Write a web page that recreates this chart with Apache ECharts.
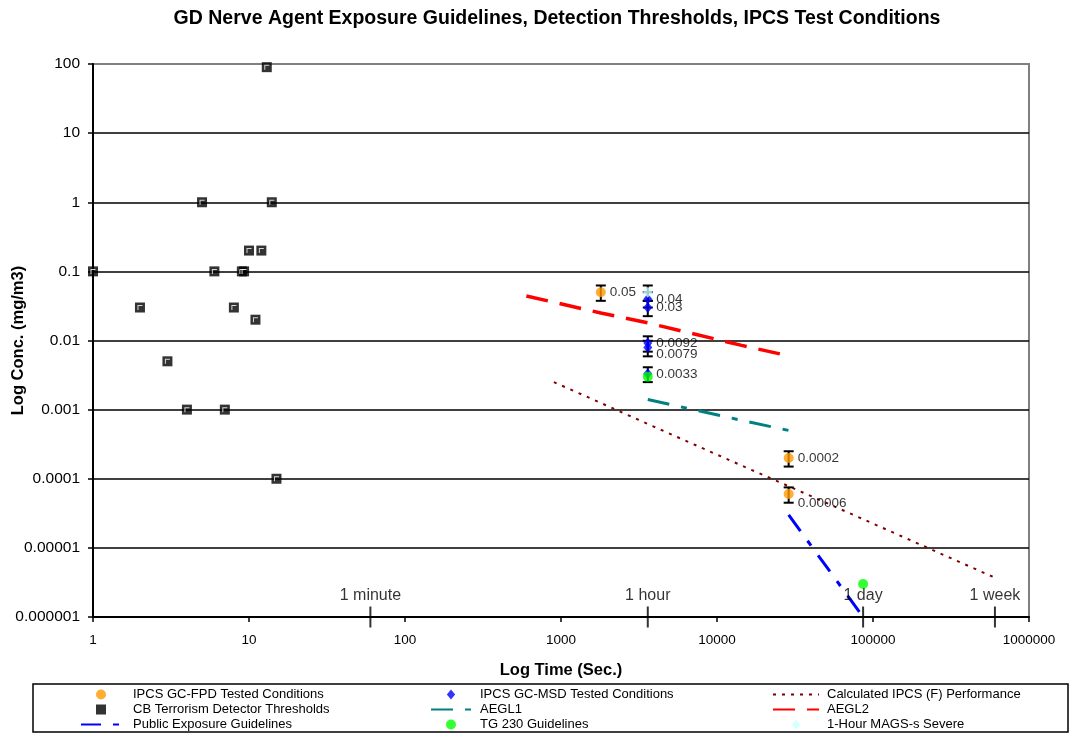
<!DOCTYPE html>
<html><head><meta charset="utf-8">
<script src="https://cdn.jsdelivr.net/npm/echarts@6/dist/echarts.min.js"></script>
<style>html,body{margin:0;padding:0;background:#fff}#c{width:1073px;height:734px}</style>
</head><body><div id="c"></div>
<script>
// ---- tick labels ----
const xTickLabels = ['1','10','100','1000','10000','100000','1000000'];
const yTickLabels = ['0.000001','0.00001','0.0001','0.001','0.01','0.1','1','10','100'];
const timeMarkNames = ['1 minute','1 hour','1 day','1 week'];
const timeMarkSec = [60, 3600, 86400, 604800];

// ---- series data (time in s, concentration in mg/m3) ----
const fpdTime = [1800, 28800, 28800];
const fpdConc = [0.05, 0.0002, 0.00006];
const msdTime = [3600, 3600, 3600, 3600, 3600];
const msdConc = [0.04, 0.03, 0.0092, 0.0079, 0.0033];
const cbTime = [1, 2, 3, 4, 5, 6, 7, 8, 9, 9.3, 10, 11, 12, 13, 14, 15];
const cbConc = [0.1, 0.03, 0.005, 0.001, 1, 0.1, 0.001, 0.03, 0.1, 0.1, 0.2, 0.02, 0.2, 90, 1, 0.0001];
const pubTime = [28800, 86400];
const pubConc = [0.00003, 0.000001];
const tgTime = [3600, 86400];
const tgConc = [0.003, 0.000003];
const magsTime = [3600];
const magsConc = [0.05];
const aegl1Time = [3600, 14400, 28800];
const aegl1Conc = [0.0014, 0.0007, 0.0005];
const aegl2Time = [600, 1800, 3600, 14400, 28800];
const aegl2Conc = [0.044, 0.025, 0.018, 0.0085, 0.006];
const calcTime = [900, 1800, 3600, 7200, 14400, 28800, 86400, 604800];
const calcConc = [0.0025, 0.00125, 0.00062, 0.00031, 0.000155, 0.000078, 0.000026, 0.0000037];
// error bars
const errTime = [1800, 3600, 3600, 3600, 3600, 3600, 3600, 28800, 28800];
const errLow  = [0.0375, 0.0375, 0.03, 0.0225, 0.0069, 0.0059, 0.0025, 0.00015, 0.000045];
const errHigh = [0.0625, 0.0625, 0.05, 0.0375, 0.0115, 0.0099, 0.0041, 0.00025, 0.000075];

const zip = (a, b) => a.map((v, i) => [v, b[i]]);
const FONT = 'Liberation Sans';

const chart = echarts.init(document.getElementById('c'), null, {renderer: 'canvas'});

const labelFor = (labels, shift) => (v) => {
  const k = Math.round(Math.log10(v)) + shift;
  return labels[k] !== undefined ? labels[k] : '';
};

const ptLabel = {show: true, position: 'right', distance: 4, color: '#000', fontSize: 13.5, fontFamily: FONT,
  formatter: p => String(p.value[1])};

const DIAMOND = 'path://M5,0L10,6L5,12L0,6Z';
const SQUARE = 'path://M0,0H10V10H0Z';
const lineItem = (name) => ({name: name, itemStyle: {opacity: 0}});
const legendText = (pad) => ({fontSize: 13, color: '#000', fontFamily: FONT, padding: [0, 0, 0, pad]});
const legendBase = {orient: 'vertical', top: 688, height: 46, padding: 0, itemHeight: 10, itemGap: 2, symbolKeepAspect: true};

const option = {
  animation: false,
  backgroundColor: '#fff',
  textStyle: {fontFamily: FONT},
  grid: {left: 93, top: 64, right: 44, bottom: 117, containLabel: false, outerBoundsMode: 'none',
         show: true, borderColor: '#808080', borderWidth: 2, backgroundColor: 'transparent'},
  xAxis: {
    type: 'log', logBase: 10, min: 1, max: 1000000,
    name: 'Log Time (Sec.)', nameLocation: 'middle', nameGap: 45, nameMoveOverlap: false,
    nameTextStyle: {fontWeight: 'bold', fontSize: 16.5, color: '#000', fontFamily: FONT},
    axisLine: {show: true, lineStyle: {color: '#000', width: 2}},
    axisTick: {show: true, inside: false, length: 5, lineStyle: {color: '#000', width: 1.5}},
    axisLabel: {color: '#000', fontSize: 13.5, margin: 16, fontFamily: FONT, formatter: labelFor(xTickLabels, 0)},
    splitLine: {show: false}, minorTick: {show: false}
  },
  yAxis: {
    type: 'log', logBase: 10, min: 0.000001, max: 100,
    name: 'Log Conc. (mg/m3)', nameLocation: 'middle', nameGap: 66, nameMoveOverlap: false,
    nameTextStyle: {fontWeight: 'bold', fontSize: 16.5, color: '#000', fontFamily: FONT},
    axisLine: {show: true, lineStyle: {color: '#000', width: 2}},
    axisTick: {show: true, inside: false, length: 5, lineStyle: {color: '#000', width: 1.5}},
    axisLabel: {color: '#000', fontSize: 15.5, margin: 13, fontFamily: FONT, formatter: labelFor(yTickLabels, 6)},
    splitLine: {show: true, showMinLine: false, showMaxLine: false, lineStyle: {color: '#000', width: 1.5}},
    minorTick: {show: false}
  },
  legend: [
    Object.assign({}, legendBase, {left: 80, itemWidth: 40, textStyle: legendText(7),
     data: ['IPCS GC-FPD Tested Conditions', {name: 'CB Terrorism Detector Thresholds', icon: SQUARE}, lineItem('Public Exposure Guidelines')]}),
    Object.assign({}, legendBase, {left: 430, itemWidth: 40, textStyle: legendText(4),
     data: [{name: 'IPCS GC-MSD Tested Conditions', icon: DIAMOND}, lineItem('AEGL1'), 'TG 230 Guidelines']}),
    Object.assign({}, legendBase, {left: 772, itemWidth: 46, textStyle: legendText(3),
     data: [lineItem('Calculated IPCS (F) Performance'), lineItem('AEGL2'), {name: '1-Hour MAGS-s Severe', icon: DIAMOND}]})
  ],
  graphic: [
    {type: 'text', x: 557, y: 9, style: {text: 'GD Nerve Agent Exposure Guidelines, Detection Thresholds, IPCS Test Conditions',
      font: 'bold 19.5px "Liberation Sans"', fill: '#000', textAlign: 'center'}},
    {type: 'rect', shape: {x: 33, y: 684, width: 1035, height: 48}, style: {fill: 'none', stroke: '#000', lineWidth: 1.5}, silent: true}
  ],
  series: [
    {name: 'Calculated IPCS (F) Performance', type: 'line', data: zip(calcTime, calcConc), symbol: 'none',
     lineStyle: {color: '#800000', width: 2, type: [3, 6]}, itemStyle: {color: '#800000'}, z: 2},
    {name: 'AEGL1', type: 'line', data: zip(aegl1Time, aegl1Conc), symbol: 'none',
     lineStyle: {color: '#008080', width: 3, type: [22, 12, 6, 12]}, itemStyle: {color: '#008080'}, z: 2},
    {name: 'AEGL2', type: 'line', data: zip(aegl2Time, aegl2Conc), symbol: 'none',
     lineStyle: {color: '#ff0000', width: 3.5, type: [22, 12]}, itemStyle: {color: '#ff0000'}, z: 2},
    {name: 'Public Exposure Guidelines', type: 'line', data: zip(pubTime, pubConc), symbol: 'none',
     lineStyle: {color: '#0000ff', width: 3, type: [20, 12, 6, 12]}, itemStyle: {color: '#0000ff'}, z: 2},
    {name: 'errorbars', type: 'custom', data: errTime.map((t, i) => [t, errLow[i], errHigh[i]]),
     encode: {x: 0, y: [1, 2]}, z: 3, silent: true,
     renderItem: (params, api) => {
       const lo = api.coord([api.value(0), api.value(1)]);
       const hi = api.coord([api.value(0), api.value(2)]);
       const w = 5;
       const st = {stroke: '#000', lineWidth: 2};
       return {type: 'group', children: [
         {type: 'line', shape: {x1: lo[0], y1: lo[1], x2: hi[0], y2: hi[1]}, style: st},
         {type: 'line', shape: {x1: lo[0] - w, y1: lo[1], x2: lo[0] + w, y2: lo[1]}, style: st},
         {type: 'line', shape: {x1: hi[0] - w, y1: hi[1], x2: hi[0] + w, y2: hi[1]}, style: st}
       ]};
     }},
    {name: 'CB Terrorism Detector Thresholds', type: 'scatter', data: zip(cbTime, cbConc), symbol: 'rect', symbolSize: 10,
     itemStyle: {color: '#000'}, clip: false, z: 4},
    {name: 'cbmark', type: 'scatter', data: zip(cbTime, cbConc), symbol: 'path://M0,0H10V2H2V10H0Z', symbolSize: 5,
     itemStyle: {color: '#fff'}, clip: false, z: 5, silent: true},
    {name: 'IPCS GC-FPD Tested Conditions', type: 'scatter', data: zip(fpdTime, fpdConc), symbol: 'circle', symbolSize: 10,
     itemStyle: {color: '#ff9900'}, z: 6,
     label: ptLabel,
     labelLayout: p => (p.dataIndex === 2 ? {dy: 9} : {})},
    {name: 'IPCS GC-MSD Tested Conditions', type: 'scatter', data: zip(msdTime, msdConc), symbol: 'diamond', symbolSize: [9, 11],
     itemStyle: {color: '#0000ff'}, z: 6,
     label: ptLabel,
     labelLayout: p => (p.dataIndex === 3 ? {dy: 7} : {})},
    {name: 'TG 230 Guidelines', type: 'scatter', data: zip(tgTime, tgConc), symbol: 'circle', symbolSize: 10,
     itemStyle: {color: '#00ff00'}, z: 7},
    {name: '1-Hour MAGS-s Severe', type: 'scatter', data: zip(magsTime, magsConc), symbol: 'diamond', symbolSize: [10, 11],
     itemStyle: {color: '#ccffff'}, z: 6},
    {name: 'timeMarks', type: 'scatter', data: timeMarkSec.map((t, i) => ({value: [t, 0.000001], name: timeMarkNames[i]})),
     symbol: 'rect', symbolSize: [2, 21], itemStyle: {color: '#000'}, clip: false, z: 8, silent: true,
     label: {show: true, position: 'top', distance: 3, fontSize: 16, color: '#000', fontFamily: FONT, formatter: p => p.name}}
  ]
};
chart.setOption(option);
</script>
</body></html>
